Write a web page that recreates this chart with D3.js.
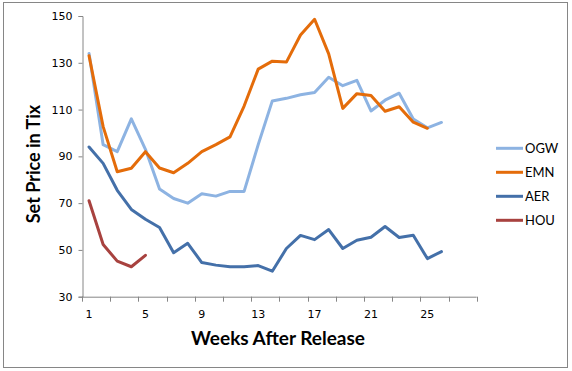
<!DOCTYPE html>
<html>
<head>
<meta charset="utf-8">
<script src="https://cdn.jsdelivr.net/npm/d3@7"></script>
<style>
  body { margin: 0; background: #fff; }
  .tick-label { font-family: "DejaVu Sans", Verdana, sans-serif; font-size: 11px; fill: #000; }
  .title { font-family: Lato, "Open Sans", sans-serif; font-weight: bold; fill: #000; }
  .legend { font-family: Lato, "Open Sans", sans-serif; font-size: 13px; fill: #000; }
</style>
</head>
<body>
<div class="canvas"></div>
<script>

// weeks after release (28 slots on the category axis, data stops at 26)
var weeks = d3.range(1, 29);
var yTicks = [30, 50, 70, 90, 110, 130, 150];
var xLabels = [1, 5, 9, 13, 17, 21, 25];

var seriesNames = ["OGW", "EMN", "AER", "HOU"];
var seriesColors = ["#8db3e2", "#e46c0a", "#4470a9", "#a8423f"];

var ogw = [134, 95, 92, 106, 93, 76, 72, 70, 74, 73, 75, 75, 95, 113.7, 114.8, 116.3, 117.3, 123.8, 120.2, 122.5, 109.4, 114, 117, 106, 102.2, 104.5];
var emn = [133, 102.7, 83.4, 84.9, 92, 85, 83, 87, 92, 95, 98.3, 111.5, 127.3, 130.7, 130.3, 141.9, 148.6, 133.8, 110.5, 116.8, 116, 109.3, 111.2, 104.6, 102];
var aer = [94, 87, 75.5, 67.3, 63.1, 59.6, 48.8, 52.8, 44.6, 43.5, 42.8, 42.8, 43.3, 40.9, 50.6, 56.2, 54.4, 58.7, 50.6, 54.1, 55.4, 60, 55.3, 56.3, 46.3, 49.3];
var hou = [71, 52.3, 45.2, 42.8, 47.7];

var allSeries = [ogw, emn, aer, hou];

var svg = d3.select(".canvas")
            .append("svg")
            .attr("width", 572)
            .attr("height", 371);

// chart border
svg.append("rect")
   .attr("x", 3.5)
   .attr("y", 2.5)
   .attr("width", 564)
   .attr("height", 365)
   .attr("fill", "#fff")
   .attr("stroke", "#868686")
   .attr("stroke-width", 1);

var x = d3.scaleBand()
          .domain(weeks)
          .range([82, 476.7]);

var y = d3.scaleLinear()
          .domain([30, 150])
          .range([296.7, 16]);

// Y AXIS

var yAxis = svg.append("g")
               .attr("transform", "translate(82.5,0)")
               .call(d3.axisLeft(y).tickValues(yTicks).tickSize(4).tickPadding(6));

yAxis.select(".domain").attr("stroke", "#868686");
yAxis.selectAll(".tick line").attr("stroke", "#868686");
yAxis.selectAll(".tick text")
     .attr("class", "tick-label")
     .attr("font-family", null)
     .attr("font-size", null);

// X AXIS (ticks between categories, every 2nd; labels every 4th)

var xAxisG = svg.append("g");

xAxisG.append("line")
      .attr("x1", x.range()[0])
      .attr("x2", x.range()[1])
      .attr("y1", y(30) + 0.5)
      .attr("y2", y(30) + 0.5)
      .attr("stroke", "#868686");

weeks.filter(function(w){ return (w - 1) % 2 === 0; }).concat([29]).forEach(function(w){
    var px = w === 29 ? x.range()[1] : x(w);
    xAxisG.append("line")
          .attr("x1", Math.round(px) + 0.5)
          .attr("x2", Math.round(px) + 0.5)
          .attr("y1", y(30))
          .attr("y2", y(30) + 5)
          .attr("stroke", "#868686");
});

xLabels.forEach(function(w){
    xAxisG.append("text")
          .attr("class", "tick-label")
          .attr("x", x(w) + x.bandwidth() / 2)
          .attr("y", 318)
          .attr("text-anchor", "middle")
          .text(w);
});

// TITLES

svg.append("text")
   .attr("class", "title")
   .attr("font-size", 19)
   .attr("x", 278)
   .attr("y", 345)
   .attr("text-anchor", "middle")
   .text("Weeks After Release");

svg.append("text")
   .attr("class", "title")
   .attr("font-size", 18)
   .attr("transform", "translate(40,164) rotate(-90)")
   .attr("text-anchor", "middle")
   .text("Set Price in Tix");

// LINES

var line = d3.line()
             .x(function(d, i){ return x(weeks[i]) + x.bandwidth() / 2; })
             .y(function(d){ return y(d); });

allSeries.forEach(function(s, i){
    svg.append("path")
       .datum(s)
       .attr("d", line)
       .attr("fill", "none")
       .attr("stroke", seriesColors[i])
       .attr("stroke-width", 3)
       .attr("stroke-linejoin", "round")
       .attr("stroke-linecap", "round");
});

// LEGEND

seriesNames.forEach(function(name, i){
    var ly = 148.3 + i * 24;
    svg.append("line")
       .attr("x1", 496)
       .attr("x2", 523)
       .attr("y1", ly)
       .attr("y2", ly)
       .attr("stroke", seriesColors[i])
       .attr("stroke-width", 3);
    svg.append("text")
       .attr("class", "legend")
       .attr("x", 525)
       .attr("y", ly + 4.5)
       .text(name);
});

</script>
</body>
</html>
